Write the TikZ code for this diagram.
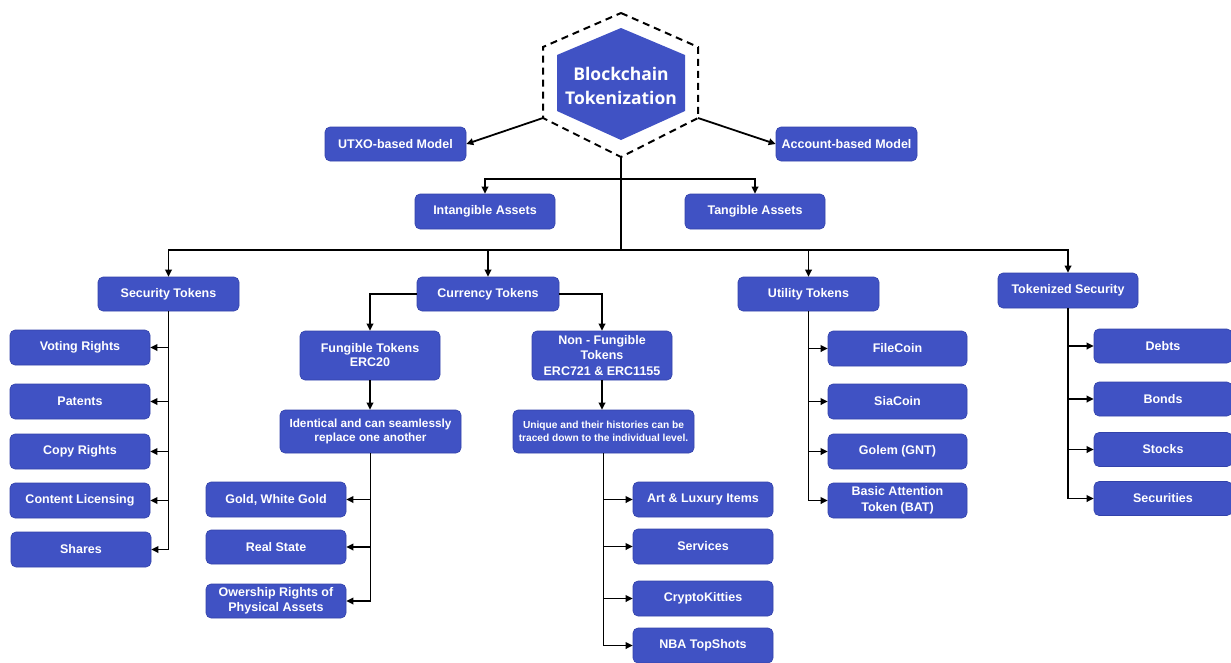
\documentclass[tikz,border=0pt]{standalone}
\usepackage{fontspec}
\setmainfont{Liberation Sans}
\newfontfamily\hexfont{Open Sans}
\usetikzlibrary{arrows.meta}
\definecolor{tokblue}{RGB}{64,82,196}
\definecolor{tokedge}{RGB}{50,66,170}
\tikzset{
  box/.style={rectangle, rounded corners=5pt, fill=tokblue, draw=tokedge, line width=0.6pt,
    text=white, font=\bfseries\fontsize{12.5}{14}\selectfont, align=center, inner sep=0pt},
  smallbox/.style={box, font=\bfseries\fontsize{11.8}{14.5}\selectfont},
  tinybox/.style={box, font=\bfseries\fontsize{10.2}{12.5}\selectfont},
  conn/.style={line width=1.8pt, draw=black},
  arr/.style={conn, -{Triangle[length=7pt,width=6.5pt]}},
}
\begin{document}
\begin{tikzpicture}[x=1pt,y=-1pt]
\useasboundingbox (0,0) rectangle (1231,662);
% hexagon
\coordinate (hexT) at (621,13);
\coordinate (hexR) at (698,118);
\coordinate (hexB) at (621,157);
\coordinate (hexL) at (543,118);
\draw[line width=2pt, dash pattern=on 7pt off 5pt] (hexT) -- (698,47) -- (hexR) -- (hexB) -- (hexL) -- (543,47) -- cycle;
\fill[tokblue] (621,28) -- (685,55) -- (685,111) -- (621,140) -- (557,111) -- (557,55) -- cycle;
\node[text=white, font=\hexfont\bfseries\fontsize{17.5}{24}\selectfont, align=center] (hex) at (621,85.5) {Blockchain\\Tokenization};
% top-level boxes
\node[box, minimum width=141, minimum height=34] (utxo) at (395.5,144) {UTXO-based Model};
\node[box, minimum width=141, minimum height=34] (acct) at (846.5,144) {Account-based Model};
\node[box, minimum width=140, minimum height=35] (intang) at (485,211.5) {Intangible Assets};
\node[box, minimum width=140, minimum height=35] (tang) at (755,211.5) {Tangible Assets};
\node[box, minimum width=141, minimum height=34] (sec) at (168.5,294) {Security Tokens};
\node[box, minimum width=142, minimum height=34] (cur) at (488,294) {Currency Tokens};
\node[box, minimum width=141, minimum height=34] (util) at (808.5,294) {Utility Tokens};
\node[box, minimum width=140, minimum height=35] (toksec) at (1068,290.5) {Tokenized Security};
% security children
\node[box, minimum width=140, minimum height=35] (vote) at (80,347.5) {Voting Rights};
\node[box, minimum width=140, minimum height=35] (pat) at (80,401.5) {Patents};
\node[box, minimum width=140, minimum height=35] (copy) at (80,451.5) {Copy Rights};
\node[box, minimum width=140, minimum height=35] (cont) at (80,500.5) {Content Licensing};
\node[box, minimum width=140, minimum height=35] (shares) at (81,549.5) {Shares};
% currency children
\node[box, minimum width=140, minimum height=49] (fung) at (370,355.5) {Fungible Tokens\\ERC20};
\node[box, minimum width=140, minimum height=49, font=\bfseries\fontsize{12.5}{15.5}\selectfont] (nft) at (602,355.5) {Non - Fungible\\Tokens\\ERC721 \& ERC1155};
\node[smallbox, minimum width=181, minimum height=43] (ident) at (370.5,431.5) {Identical and can seamlessly\\replace one another};
\node[tinybox, minimum width=181, minimum height=43] (uniq) at (603.5,431.5) {Unique and their histories can be\\traced down to the individual level.};
\node[box, minimum width=140, minimum height=35] (gold) at (276,499.5) {Gold, White Gold};
\node[box, minimum width=140, minimum height=34] (real) at (276,547) {Real State};
\node[box, minimum width=140, minimum height=34, font=\bfseries\fontsize{12.5}{15.5}\selectfont] (own) at (276,601) {Owership Rights of\\Physical Assets};
\node[box, minimum width=140, minimum height=35] (art) at (703,499.5) {Art \& Luxury Items};
\node[box, minimum width=140, minimum height=35] (serv) at (703,546.5) {Services};
\node[box, minimum width=140, minimum height=35] (crypto) at (703,598.5) {CryptoKitties};
\node[box, minimum width=140, minimum height=35] (nba) at (703,645.5) {NBA TopShots};
% utility children
\node[box, minimum width=139, minimum height=35] (file) at (897.5,348.5) {FileCoin};
\node[box, minimum width=139, minimum height=35] (sia) at (897.5,401.5) {SiaCoin};
\node[box, minimum width=139, minimum height=35] (golem) at (897.5,451.5) {Golem (GNT)};
\node[box, minimum width=139, minimum height=35, font=\bfseries\fontsize{12.5}{15.5}\selectfont] (bat) at (897.5,500.5) {Basic Attention\\Token (BAT)};
% tokenized security children
\node[box, minimum width=138, minimum height=34] (debts) at (1163,346) {Debts};
\node[box, minimum width=138, minimum height=34] (bonds) at (1163,399) {Bonds};
\node[box, minimum width=138, minimum height=34] (stocks) at (1163,449.5) {Stocks};
\node[box, minimum width=138, minimum height=34] (secur) at (1163,498.5) {Securities};
% connectors
\draw[arr] (hexL) -- (utxo.east);
\draw[arr] (hexR) -- (acct.west);
\coordinate (j1) at (621,179);
\coordinate (bus) at (621,250);
\draw[conn] (hexB) -- (bus);
\draw[arr] (j1) -| (intang.north);
\draw[arr] (j1) -| (tang.north);
\draw[arr] (bus) -| (sec.north);
\draw[arr] (bus) -| (cur.north);
\draw[arr] (bus) -| (util.north);
\draw[arr] (bus) -| (toksec.north);
\foreach \t in {vote,pat,copy,cont,shares} \draw[arr] (sec.south) |- (\t.east);
\draw[arr] (cur.west) -| (fung.north);
\draw[arr] (cur.east) -| (nft.north);
\draw[arr] (fung.south) -- (fung.south |- ident.north);
\draw[arr] (nft.south) -- (nft.south |- uniq.north);
\foreach \t in {gold,real,own} \draw[arr] (ident.south) |- (\t.east);
\foreach \t in {art,serv,crypto,nba} \draw[arr] (uniq.south) |- (\t.west);
\foreach \t in {file,sia,golem,bat} \draw[arr] (util.south) |- (\t.west);
\foreach \t in {debts,bonds,stocks,secur} \draw[arr] (toksec.south) |- (\t.west);
\end{tikzpicture}
\end{document}
